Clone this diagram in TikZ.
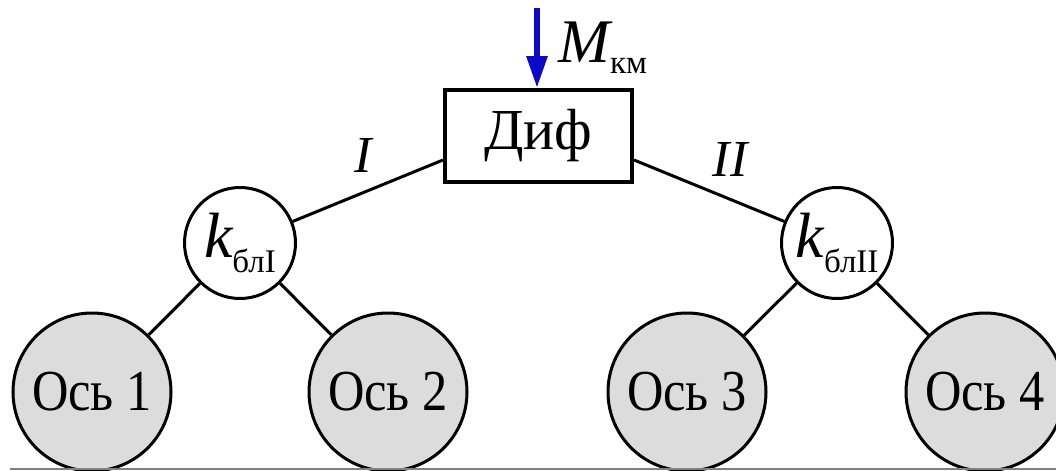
\documentclass[tikz,border=0pt]{standalone}
\usepackage{fontspec}
\setmainfont{Liberation Serif}
\usetikzlibrary{arrows.meta}
\definecolor{axlegray}{RGB}{220,220,220}
\definecolor{arrowblue}{RGB}{10,10,200}
\newcommand{\axletext}[1]{\scalebox{0.87}[1]{#1}}
\begin{document}
\begin{tikzpicture}[x=0.5pt,y=-0.5pt,
  axle/.style={circle,draw,line width=1.5pt,fill=axlegray,minimum size=79pt,inner sep=0pt,font=\fontsize{29}{30}\selectfont},
  blk/.style={circle,draw,line width=1.5pt,fill=white,minimum size=55.5pt,inner sep=0pt},
  difbox/.style={draw,line width=2pt,fill=white,minimum width=93.5pt,minimum height=46pt,inner sep=0pt,font=\fontsize{29}{30}\selectfont},
  link/.style={line width=1.5pt},
  roman/.style={font=\fontsize{26}{26}\selectfont\itshape,anchor=base},
]
\useasboundingbox (0,0) rectangle (1056,471);

\node[difbox] (box) at (538.5,136) {Диф};

\node[blk] (k1) at (240,243) {{\fontsize{32}{32}\selectfont\itshape k}\raisebox{-7.5pt}{\fontsize{16.5}{17}\selectfont блI}};
\node[blk] (k2) at (837,243) {{\fontsize{32}{32}\selectfont\itshape k}\raisebox{-7.5pt}{\fontsize{16.5}{17}\selectfont блII}};

\node[axle] (a1) at (92,392) {\axletext{Ось 1}};
\node[axle] (a2) at (388,392) {\axletext{Ось 2}};
\node[axle] (a3) at (687,392) {\axletext{Ось 3}};
\node[axle] (a4) at (985,392) {\axletext{Ось 4}};

\path (box.south west) ++(0,-24) coordinate (bl);
\path (box.south east) ++(0,-24) coordinate (br);
\draw[link] (bl) -- (k1);
\draw[link] (br) -- (k2);
\draw[link] (k1) -- (a1);
\draw[link] (k1) -- (a2);
\draw[link] (k2) -- (a3);
\draw[link] (k2) -- (a4);

\node[roman] (lI) at (363,172) {I};
\node[roman] (lII) at (730,176) {II};

\coordinate (mtop) at (537,8);
\draw[arrowblue,line width=3pt,-{Triangle[width=10pt,length=16pt]}] (mtop) -- (box.north -| mtop);
\node[anchor=base west,inner sep=0pt] (mkm) at (558,62) {{\fontsize{31}{31}\selectfont\itshape M}\raisebox{-5.5pt}{\fontsize{16.5}{17}\selectfont км}};

\coordinate (g1) at (10,469);
\coordinate (g2) at (1056,469);
\draw[gray,line width=0.8pt] (g1) -- (g2);
\end{tikzpicture}
\end{document}
